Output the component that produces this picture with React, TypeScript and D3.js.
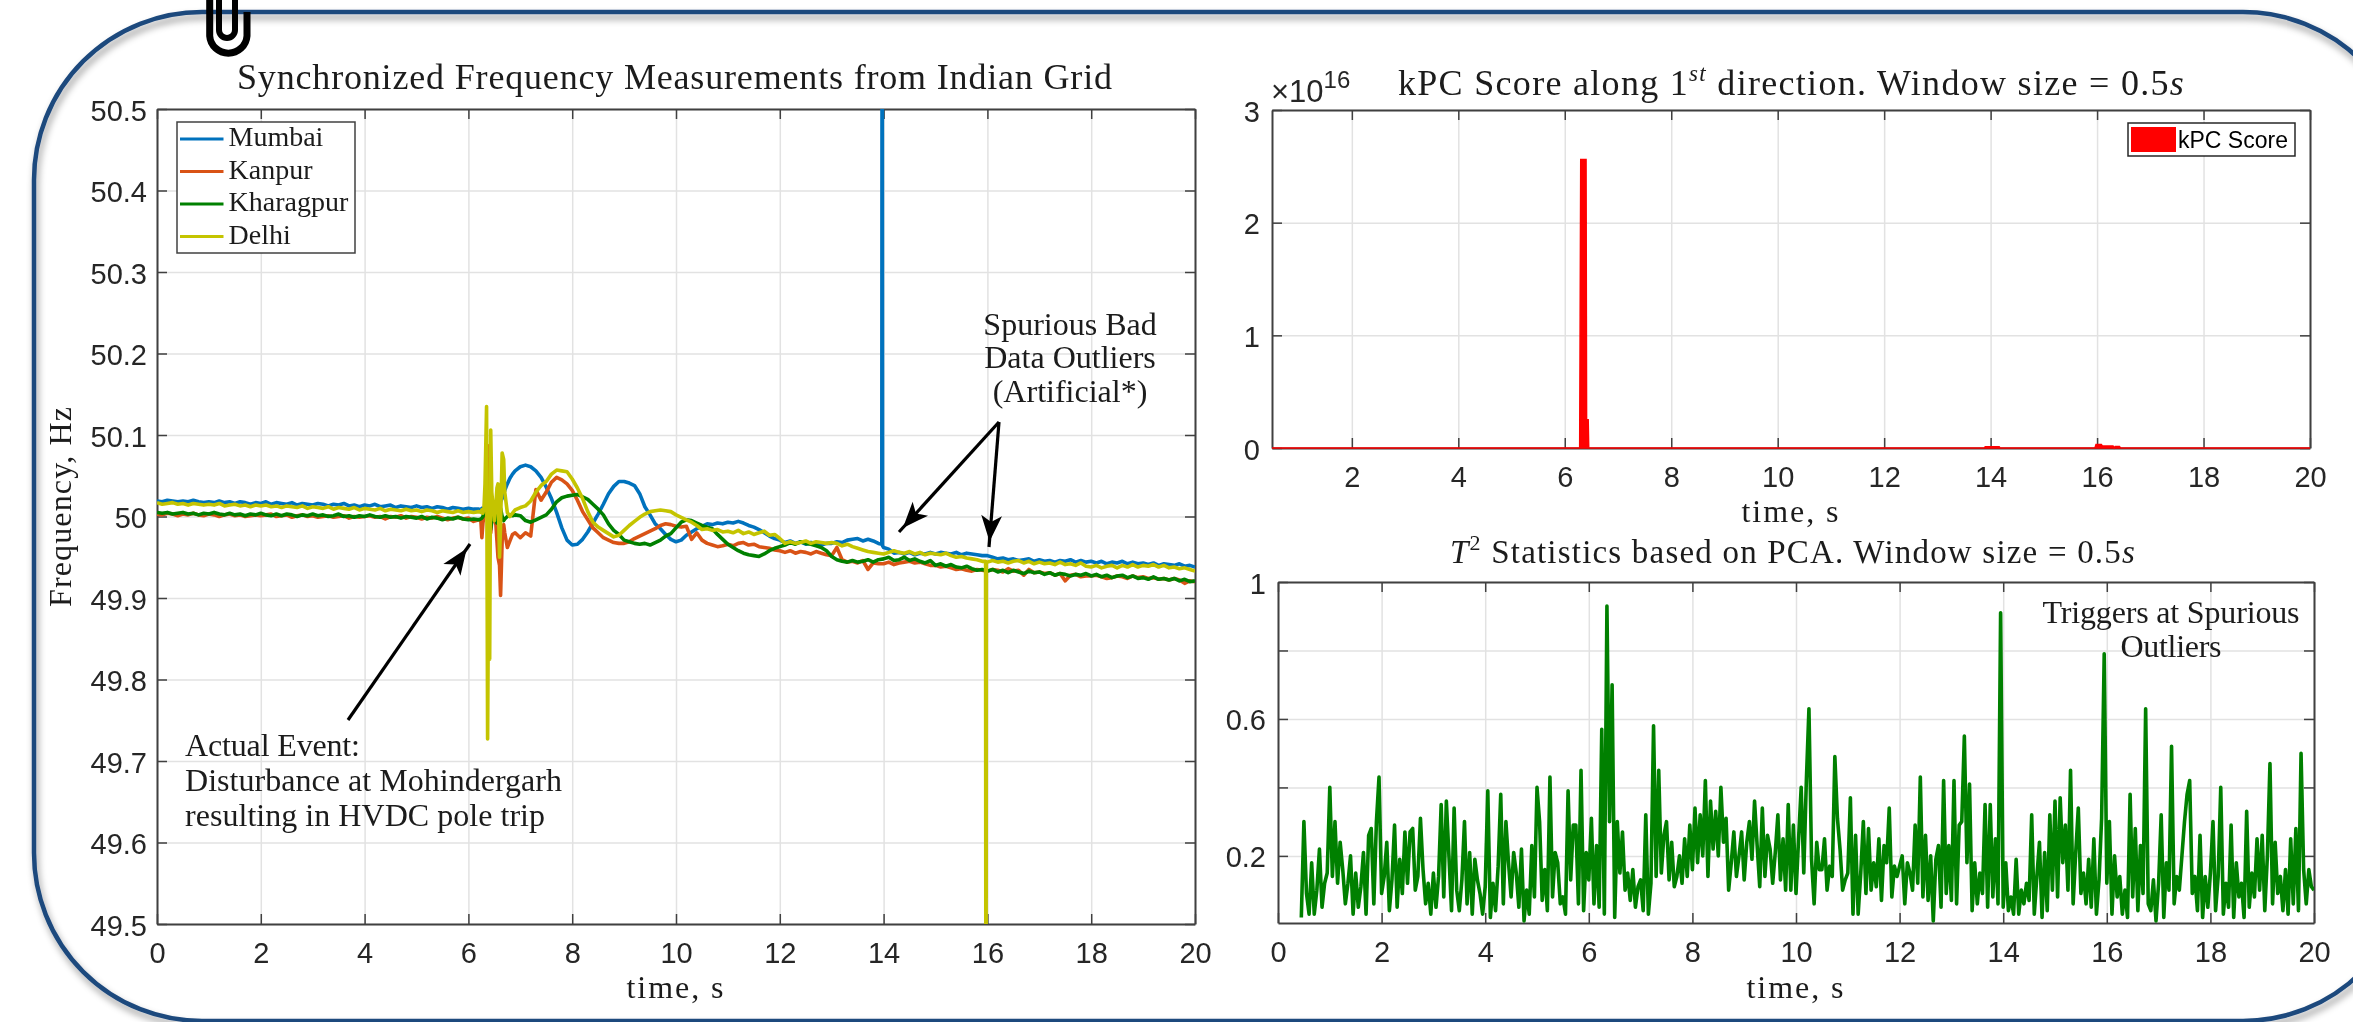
import React, { useEffect, useRef } from 'react';
import * as d3 from 'd3';

const SERIF = '"Liberation Serif", serif';
const SANS = '"Liberation Sans", Arial, sans-serif';
const INK = '#262626';

const seriesNames = ['Mumbai', 'Kanpur', 'Kharagpur', 'Delhi'];
const seriesColors = ['#0072BD', '#D95319', '#008000', '#C4C400'];

// frequency samples, in mHz away from 50 Hz
const preT = d3.range(0, 62).map(i => i / 10);
const eventT = [6.2, 6.24, 6.26, 6.28, 6.3, 6.32, 6.35, 6.37, 6.39, 6.41, 6.43, 6.45, 6.48, 6.5, 6.53, 6.55, 6.57, 6.6, 6.62, 6.65, 6.68, 6.7, 6.75, 6.8, 6.85];
const postT = d3.range(69, 201).map(i => i / 10);
const freqT = [...preT, ...eventT, ...postT];

const mumbai = [
  19, 18, 20, 19, 18, 19, 18, 20, 18, 17, 18, 17, 19, 17, 18, 16, 18, 17, 15, 17,
  16, 18, 15, 17, 16, 15, 17, 14, 16, 15, 14, 16, 15, 13, 15, 14, 16, 13, 14, 12,
  14, 13, 15, 12, 13, 14, 11, 13, 12, 11, 13, 11, 12, 10, 12, 11, 9, 11, 10, 9, 10, 9,
  9, 8, 10, 8, 9, 12, 15, 10, 5, 8, 12, 15, 18, 15, 10, 5, 8, 12, 18, 22, 28, 32, 40, 47, 52,
  56,
  61, 63, 61, 56, 48, 36, 22, 5, -14, -29,
  -35, -34, -28, -19, -8, 3, 15, 28, 37, 43,
  43, 41, 38, 28, 12, 2, -9, -15, -22, -28,
  -31, -29, -23, -19, -15, -12, -9, -10, -8, -9,
  -7, -8, -6, -8, -11, -13, -16, -20, -24, -27,
  -29, -32, -30, -33, -31, -34, -32, -33, -35, -33,
  -33, -31, -32, -29, -28, -27, -30, -28, -30, -33,
  -38, -40, -45, -44, -46, -44, -47, -45, -46, -44,
  -46, -44, -45, -46, -44, -47, -45, -46, -47, -48,
  -48, -50, -52, -51, -53, -52, -54, -53, -52, -55,
  -53, -55, -54, -56, -54, -55, -53, -56, -54, -56,
  -55, -57, -55, -58, -56, -57, -55, -58, -56, -58,
  -57, -59, -57, -60, -58, -59, -60, -58, -61, -60,
  -62,
];
const kanpur = [
  3, 2, 4, 3, 1, 3, 2, 4, 2, 1, 3, 2, 0, 2, 3, 1, 2, 0, 1, 2,
  1, 2, 3, 0, 1, 2, -1, 1, 2, 0, 1, -1, 0, 1, -1, 0, 1, -2, 0, -1,
  0, 1, -1, 0, -3, 0, -1, 1, -2, 0, -1, -3, -1, -2, 0, -2, -4, -2, -1, -3, -2, -6,
  -4, -5, -26, -8, 0, 20, 40, 87, 60, 10, -20, -5, 10, 0, -10, -30, -50, -60, -97, -30, -10, -20, -38, -30, -22,
  -20,
  -26, -20, -24, 33, 20, 30, 42, 48, 45, 40,
  32, 20, 6, -4, -14, -20, -26, -29, -32, -33,
  -33, -31, -27, -24, -21, -18, -15, -11, -9, -10,
  -12, -13, -12, -28, -20, -29, -33, -35, -37, -36,
  -34, -36, -33, -32, -35, -34, -37, -38, -39, -41,
  -42, -44, -42, -45, -43, -44, -46, -43, -45, -47,
  -48, -38, -53, -56, -55, -57, -54, -65, -57, -58,
  -58, -56, -59, -57, -56, -55, -57, -56, -58, -60,
  -60, -62, -61, -63, -65, -64, -66, -67, -65, -66,
  -67, -65, -66, -68, -64, -67, -66, -72, -65, -69,
  -68, -70, -69, -72, -70, -79, -72, -71, -74, -73,
  -73, -72, -74, -76, -75, -73, -74, -76, -73, -75,
  -74, -76, -75, -77, -76, -78, -76, -78, -82, -79,
  -80,
];
const kharagpur = [
  5, 4, 5, 3, 4, 5, 3, 4, 2, 4, 3, 5, 3, 2, 4, 2, 3, 1, 3, 2,
  4, 2, 1, 3, 1, 3, 2, 0, 2, 1, 3, 1, 2, 0, 1, 3, 0, 1, -1, 1,
  0, 2, 0, -1, 1, -1, 0, -2, 0, -1, -2, 0, -3, -1, -2, -4, -2, -3, -1, -3, -4, -3,
  -4, -3, -2, 0, 5, 15, 22, 5, -10, -20, -15, -5, 8, 10, 5, -8, -5, 5, 10, 0, -5, -3, 0, 2, 1,
  2,
  1, -5, -7, -4, -1, 2, 9, 18, 23, 25,
  26, 27, 24, 21, 15, 9, 2, -9, -17, -22,
  -29, -31, -33, -34, -33, -35, -32, -29, -24, -21,
  -14, -7, -4, -5, -8, -11, -13, -15, -22, -28,
  -34, -38, -42, -45, -47, -48, -49, -46, -42, -39,
  -37, -35, -32, -34, -31, -33, -34, -36, -38, -42,
  -49, -53, -55, -56, -54, -56, -55, -53, -56, -53,
  -52, -50, -54, -53, -50, -54, -52, -55, -57, -54,
  -60, -58, -61, -59, -62, -63, -61, -64, -66, -65,
  -67, -65, -68, -66, -69, -66, -68, -70, -67, -69,
  -68, -71, -69, -72, -70, -71, -73, -71, -72, -70,
  -73, -71, -74, -72, -75, -73, -72, -75, -73, -76,
  -75, -77, -74, -77, -76, -78, -76, -79, -77, -80,
  -79,
];
const delhi = [
  17, 15, 16, 17, 15, 16, 14, 16, 15, 14, 15, 14, 16, 13, 14, 15, 13, 14, 12, 14,
  13, 14, 12, 13, 11, 13, 12, 11, 13, 10, 12, 11, 10, 12, 9, 11, 10, 9, 11, 8,
  10, 9, 8, 10, 7, 9, 8, 7, 9, 7, 8, 6, 8, 7, 5, 7, 6, 5, 7, 5, 6, 5,
  6, 5, 8, 4, 10, 40, 135, -273, -60, -175, 106, 30, 10, -5, 15, 35, 40, -50, -10, 78, 70, 30, 5, 0, 4,
  8,
  11, 13, 19, 30, 38, 43, 52, 57, 56, 55,
  46, 35, 22, 6, -7, -13, -17, -21, -25, -23,
  -17, -11, -6, -1, 3, 6, 7, 8, 7, 6,
  2, -1, -4, -7, -11, -16, -15, -17, -16, -19,
  -18, -20, -17, -21, -19, -22, -20, -18, -23, -22,
  -27, -33, -31, -33, -32, -30, -33, -31, -32, -33,
  -32, -33, -36, -34, -37, -39, -41, -43, -44, -45,
  -46, -44, -42, -44, -45, -43, -46, -44, -47, -45,
  -46, -47, -45, -48, -50, -49, -51, -52, -53, -55,
  -56, -54, -56, -55, -57, -55, -54, -57, -55, -58,
  -56, -58, -57, -59, -56, -59, -58, -60, -57, -61,
  -62, -60, -63, -61, -60, -63, -60, -62, -59, -62,
  -60, -61, -59, -62, -60, -63, -62, -64, -63, -65,
  -67,
];
// the injected bad samples, they run off the axes
const mumbaiOutlierT = [13.965, 13.97, 13.975, 13.98];
const mumbaiOutlierV = [-34, 600, 600, -36];
const delhiOutlierT = [15.965, 15.97, 15.975, 15.98];
const delhiOutlierV = [-55, -600, -600, -56];

const kpcT = [0.5, 6.28, 6.3, 6.4, 6.41, 6.44, 6.45, 13.88, 13.9, 14.16, 14.18, 15.96, 15.98, 16.08, 16.1, 16.3, 16.32, 16.34, 16.42, 16.44, 20];
const kpcV = [0, 0, 2.56, 2.56, 0.25, 0.25, 0, 0, 0.012, 0.012, 0, 0, 0.03, 0.03, 0.018, 0.018, 0, 0.014, 0.014, 0, 0];

// T2 statistic in hundredths, one row per second, first row starts at 0.45 s
const t2Values = [
  2, 30, 9, 3, 18, 3, 10, 22, 5, 12, 15,
  40, 14, 30, 12, 24, 16, 6, 12, 20, 3, 15, 5, 11, 21, 3, 26, 28, 6, 30, 43,
  9, 14, 24, 4, 13, 29, 5, 19, 9, 27, 12, 27, 28, 10, 14, 31, 16, 6, 12, 3,
  15, 5, 14, 35, 8, 36, 20, 4, 34, 10, 4, 13, 30, 6, 21, 3, 19, 13, 9, 3,
  11, 39, 2, 12, 4, 17, 38, 6, 30, 18, 8, 21, 15, 5, 22, 1, 10, 3, 23, 8,
  40, 30, 7, 16, 4, 43, 8, 21, 18, 6, 8, 3, 39, 13, 29, 29, 6, 45, 4, 21,
  13, 31, 6, 23, 5, 57, 3, 93, 30, 70, 2, 30, 15, 27, 10, 15, 7, 16, 5, 11,
  13, 4, 32, 3, 12, 58, 14, 45, 15, 26, 30, 13, 24, 11, 14, 20, 12, 25, 14, 29,
  16, 34, 18, 32, 20, 42, 14, 36, 22, 33, 20, 40, 24, 31, 10, 18, 27, 14, 20, 27,
  13, 24, 30, 19, 36, 23, 11, 34, 14, 26, 22, 12, 21, 32, 13, 25, 10, 35, 10, 29,
  9, 25, 40, 15, 42, 63, 19, 6, 24, 16, 16, 25, 10, 17, 14, 49, 31, 22, 10, 13,
  15, 37, 3, 26, 3, 15, 30, 9, 28, 10, 18, 11, 25, 7, 23, 18, 34, 8, 17, 14,
  17, 20, 6, 18, 15, 10, 29, 12, 43, 8, 26, 7, 20, 1, 19, 23, 5, 42, 9, 23,
  7, 42, 6, 29, 30, 55, 18, 41, 4, 18, 6, 15, 9, 35, 5, 35, 8, 25, 6, 91,
  5, 18, 4, 8, 3, 19, 3, 10, 6, 12, 7, 32, 3, 14, 24, 2, 21, 4, 32, 10,
  36, 8, 37, 18, 29, 10, 45, 6, 21, 34, 9, 15, 6, 19, 5, 25, 3, 13, 31, 79,
  12, 30, 3, 20, 8, 14, 3, 10, 2, 38, 8, 28, 4, 23, 9, 63, 6, 4, 13, 1,
  12, 32, 2, 18, 10, 52, 6, 14, 10, 20, 30, 38, 42, 9, 14, 4, 26, 2, 14, 5,
  15, 30, 4, 14, 40, 3, 12, 5, 29, 2, 18, 8, 12, 2, 33, 5, 15, 8, 25, 10,
  26, 4, 20, 47, 6, 24, 9, 14, 4, 16, 3, 25, 6, 28, 4, 50, 16, 6, 16, 11,
  10,
];
const t2T = t2Values.map((_, i) => (45 + i * 5) / 100);

const freqTicks = [49.5, 49.6, 49.7, 49.8, 49.9, 50, 50.1, 50.2, 50.3, 50.4, 50.5];
const freqTickLabels = ['49.5', '49.6', '49.7', '49.8', '49.9', '50', '50.1', '50.2', '50.3', '50.4', '50.5'];
const freqTimeTicks = [0, 2, 4, 6, 8, 10, 12, 14, 16, 18, 20];
const kpcTimeTicks = [2, 4, 6, 8, 10, 12, 14, 16, 18, 20];
const kpcTicks = [0, 1, 2, 3];
const t2Ticks = [0.2, 0.4, 0.6, 0.8, 1];
const t2Labels = ['0.2', '', '0.6', '', '1'];

type Pt = [number, number];
type Box = { left: number; right: number; top: number; bottom: number };

const freqBox: Box = { left: 157, right: 1195, top: 109, bottom: 924 };
const kpcBox: Box = { left: 1272, right: 2310, top: 110, bottom: 448 };
const t2Box: Box = { left: 1278, right: 2314, top: 582, bottom: 923 };

const xFreq = d3.scaleLinear().domain([0, 20]).range([freqBox.left, freqBox.right]);
const yFreq = d3.scaleLinear().domain([49.5, 50.5]).range([freqBox.bottom, freqBox.top]);
const xKpc = d3.scaleLinear().domain([0.5, 20]).range([kpcBox.left, kpcBox.right]);
const yKpc = d3.scaleLinear().domain([0, 3]).range([kpcBox.bottom, kpcBox.top]);
const xT2 = d3.scaleLinear().domain([0, 20]).range([t2Box.left, t2Box.right]);
const yT2 = d3.scaleLinear().domain([0.004, 1]).range([t2Box.bottom, t2Box.top]);

function freqSeries(values: number[], outT: number[] = [], outV: number[] = []): Pt[] {
  const pts: Pt[] = freqT.map((t, i) => [t, 50 + values[i] / 1000] as Pt);
  outT.forEach((t, i) => pts.push([t, 50 + outV[i] / 1000]));
  return pts.filter(p => !isNaN(p[1])).sort((a, b) => a[0] - b[0]);
}

const freqData: Pt[][] = [
  freqSeries(mumbai, mumbaiOutlierT, mumbaiOutlierV),
  freqSeries(kanpur),
  freqSeries(kharagpur),
  freqSeries(delhi, delhiOutlierT, delhiOutlierV),
];

function Axes({ box, x, y, xTicks, yTicks, yFormat, yPad }: any) {
  const ref = useRef<SVGGElement>(null);
  useEffect(() => {
    const g = d3.select(ref.current);
    g.selectAll('*').remove();
    const w = box.right - box.left;
    const h = box.bottom - box.top;
    // grid first, then the box and the tick marks
    g.append('g')
      .attr('transform', `translate(0,${box.bottom})`)
      .call(d3.axisBottom(x).tickValues(xTicks).tickSize(-h).tickFormat(() => ''))
      .call(s => s.select('.domain').remove())
      .selectAll('line')
      .attr('stroke', '#e2e2e2')
      .attr('stroke-width', 1.5);
    g.append('g')
      .attr('transform', `translate(${box.left},0)`)
      .call(d3.axisLeft(y).tickValues(yTicks).tickSize(-w).tickFormat(() => ''))
      .call(s => s.select('.domain').remove())
      .selectAll('line')
      .attr('stroke', '#e2e2e2')
      .attr('stroke-width', 1.5);

    const styleText = (s: any) =>
      s.selectAll('text')
        .attr('fill', INK)
        .style('font-family', SANS)
        .style('font-size', '29px');
    const styleAxis = (s: any) => {
      s.selectAll('line').attr('stroke', '#404040').attr('stroke-width', 1.5);
      s.select('.domain').attr('stroke', '#404040').attr('stroke-width', 2);
    };

    g.append('g')
      .attr('transform', `translate(0,${box.bottom})`)
      .call(d3.axisBottom(x).tickValues(xTicks).tickSize(-10).tickSizeOuter(0).tickPadding(18).tickFormat(d3.format('d')))
      .call(styleAxis)
      .call(styleText);
    g.append('g')
      .attr('transform', `translate(0,${box.top})`)
      .call(d3.axisTop(x).tickValues(xTicks).tickSize(-10).tickSizeOuter(0).tickFormat(() => ''))
      .call(styleAxis);
    g.append('g')
      .attr('transform', `translate(${box.left},0)`)
      .call(d3.axisLeft(y).tickValues(yTicks).tickSize(-10).tickSizeOuter(0).tickPadding(yPad).tickFormat(yFormat))
      .call(styleAxis)
      .call(styleText)
      .call(s => s.selectAll('text').attr('dy', '0.38em'));
    g.append('g')
      .attr('transform', `translate(${box.right},0)`)
      .call(d3.axisRight(y).tickValues(yTicks).tickSize(-10).tickSizeOuter(0).tickFormat(() => ''))
      .call(styleAxis);
  }, []);
  return <g ref={ref} />;
}

function Label({ x, y, size = 32, anchor = 'start', width, children, rotate }: any) {
  return (
    <text
      x={x}
      y={y}
      fontFamily={SERIF}
      fontSize={size}
      fill="#1a1a1a"
      textAnchor={anchor}
      textLength={width}
      lengthAdjust={width ? 'spacing' : undefined}
      transform={rotate ? `rotate(${rotate} ${x} ${y})` : undefined}
    >
      {children}
    </text>
  );
}

function Arrow({ from, to }: { from: Pt; to: Pt }) {
  return <line x1={from[0]} y1={from[1]} x2={to[0]} y2={to[1]} stroke="#000" strokeWidth={3.2} markerEnd="url(#head)" />;
}

export default function App() {
  const freqLine = d3
    .line<Pt>()
    .x(d => xFreq(d[0]))
    .y(d => yFreq(d[1]));
  const kpcArea = d3
    .area<number>()
    .x((_, i) => xKpc(kpcT[i]))
    .y0(yKpc(0))
    .y1(d => yKpc(d));
  const t2Line = d3
    .line<number>()
    .x((_, i) => xT2(t2T[i]))
    .y(d => yT2(d / 100));

  return (
    <svg
      width={2353}
      height={1022}
      style={{ position: 'absolute', left: 0, top: 0, background: '#fff' }}
    >
      <defs>
        <clipPath id="clip-freq">
          <rect x={freqBox.left} y={freqBox.top} width={freqBox.right - freqBox.left} height={freqBox.bottom - freqBox.top} />
        </clipPath>
        <clipPath id="clip-t2">
          <rect x={t2Box.left} y={t2Box.top} width={t2Box.right - t2Box.left} height={t2Box.bottom - t2Box.top} />
        </clipPath>
        <marker id="head" viewBox="0 0 10 8" refX="9.5" refY="4" markerWidth="10" markerHeight="8" markerUnits="userSpaceOnUse" orient="auto" overflow="visible">
          <path d="M0,0 L10,4 L0,8 L2.5,4 Z" transform="scale(2.6) translate(-8.5,-2.5)" fill="#000" />
        </marker>
        <filter id="frame-shadow" x="-5%" y="-5%" width="110%" height="110%">
          <feDropShadow dx="2" dy="5" stdDeviation="3.5" floodColor="#000" floodOpacity="0.4" />
        </filter>
        <filter id="soft" x="0" y="0" width="2353" height="1022" filterUnits="userSpaceOnUse">
          <feGaussianBlur stdDeviation="0.55" />
        </filter>
      </defs>

      <rect x={34} y={12} width={2377} height={1009} rx={168} ry={168} fill="none" stroke="#1F497D" strokeWidth={4.5} filter="url(#frame-shadow)" />

      {/* paper clip */}
      <path d="M209.7,-4 V36 A18.7,18.5 0 0 0 247,36 V12" fill="none" stroke="#000" strokeWidth={7} />
      <path d="M219,-4 V30 A8,8 0 0 0 235,30 V-4" fill="none" stroke="#000" strokeWidth={6} />

      <g filter="url(#soft)">
        {/* frequency panel */}
        <Axes box={freqBox} x={xFreq} y={yFreq} xTicks={freqTimeTicks} yTicks={freqTicks} yFormat={(d: number) => freqTickLabels[freqTicks.indexOf(d)]} yPad={10} />
        <g clipPath="url(#clip-freq)" fill="none" strokeWidth={3.6} strokeLinejoin="round">
          {freqData.map((pts, i) => (
            <path key={seriesNames[i]} d={freqLine(pts) || ''} stroke={seriesColors[i]} />
          ))}
        </g>
        <Label x={237} y={89} size={36} width={875}>Synchronized Frequency Measurements from Indian Grid</Label>
        <Label x={71} y={507} size={32} anchor="middle" width={200} rotate={-90}>Frequency, Hz</Label>
        <Label x={675} y={998} anchor="middle" width={97}>time, s</Label>

        <rect x={177} y={122} width={178} height={131} fill="#fff" stroke="#404040" strokeWidth={1.5} />
        {seriesNames.map((name, i) => (
          <g key={name}>
            <line x1={180} x2={223.5} y1={139 + i * 32.5} y2={139 + i * 32.5} stroke={seriesColors[i]} strokeWidth={3} />
            <Label x={228.5} y={146 + i * 32.5} size={28}>{name}</Label>
          </g>
        ))}

        <Label x={1070} y={335} anchor="middle">Spurious Bad</Label>
        <Label x={1070} y={368} anchor="middle">Data Outliers</Label>
        <Label x={1070} y={402} anchor="middle">(Artificial*)</Label>
        <Arrow from={[999, 422]} to={[899, 532]} />
        <Arrow from={[999, 422]} to={[989, 547]} />

        <Label x={185} y={756} width={175}>Actual Event:</Label>
        <Label x={185} y={791} width={377}>Disturbance at Mohindergarh</Label>
        <Label x={185} y={826} width={360}>resulting in HVDC pole trip</Label>
        <Arrow from={[348, 720]} to={[470, 544]} />

        {/* kPC score panel */}
        <Axes box={kpcBox} x={xKpc} y={yKpc} xTicks={kpcTimeTicks} yTicks={kpcTicks} yFormat={d3.format('d')} yPad={12} />
        <path d={kpcArea(kpcV) || ''} fill="#FF0000" stroke="#FF0000" strokeWidth={1.5} />
        <text x={1271} y={102} fontFamily={SANS} fontSize={31} fill={INK}>
          ×10
          <tspan dy={-14} fontSize={24}>16</tspan>
        </text>
        <text x={1398} y={95} fontFamily={SERIF} fontSize={36} letterSpacing={1.3} fill="#1a1a1a">
          kPC Score along 1<tspan dy={-14} fontSize={23} fontStyle="italic">st</tspan>
          <tspan dy={14}> direction. Window size = 0.5</tspan>
          <tspan fontStyle="italic">s</tspan>
        </text>
        <Label x={1790} y={522} anchor="middle" width={97}>time, s</Label>
        <rect x={2128} y={123} width={167} height={33} fill="#fff" stroke="#262626" strokeWidth={1.5} />
        <rect x={2131} y={127} width={45} height={25} fill="#FF0000" />
        <text x={2178} y={148} fontFamily={SANS} fontSize={23} fill="#000">kPC Score</text>

        {/* T2 panel */}
        <Axes box={t2Box} x={xT2} y={yT2} xTicks={freqTimeTicks} yTicks={t2Ticks} yFormat={(d: number) => t2Labels[t2Ticks.indexOf(d)]} yPad={12} />
        <path d={t2Line(t2Values) || ''} clipPath="url(#clip-t2)" fill="none" stroke="#008000" strokeWidth={3.6} strokeLinejoin="round" />
        <text x={1450} y={563} fontFamily={SERIF} fontSize={33} letterSpacing={1.2} fill="#1a1a1a">
          <tspan fontStyle="italic">T</tspan>
          <tspan dy={-13} fontSize={22}>2</tspan>
          <tspan dy={13}> Statistics based on PCA. Window size = 0.5</tspan>
          <tspan fontStyle="italic">s</tspan>
        </text>
        <Label x={2171} y={623} size={32} anchor="middle" width={257}>Triggers at Spurious</Label>
        <Label x={2171} y={657} size={32} anchor="middle" width={101}>Outliers</Label>
        <Label x={1795} y={998} anchor="middle" width={97}>time, s</Label>
      </g>
    </svg>
  );
}
